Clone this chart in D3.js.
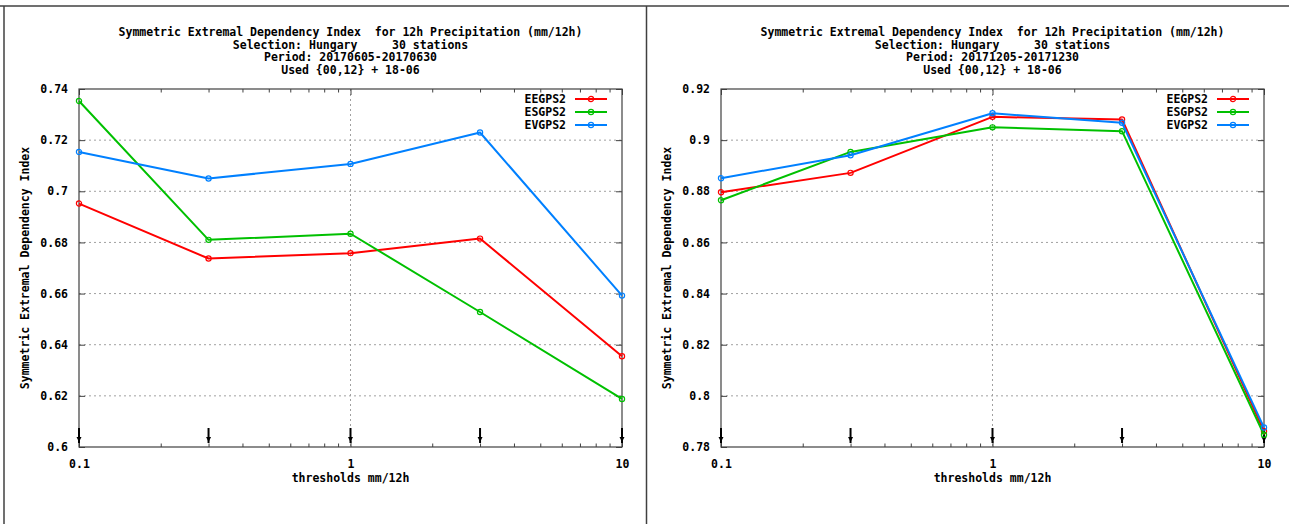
<html>
<head>
<title>SEDI 12h precipitation</title>
<script src="https://d3js.org/d3.v7.min.js"></script>
<style>
  body { margin: 0; background: #fff; }
  svg text { font-family: "DejaVu Sans Mono", "Liberation Mono", monospace; font-weight: bold; font-size: 11.5px; fill: #000; }
  .grid line { stroke: #a0a0a0; stroke-width: 1; stroke-dasharray: 2,3; }
  .frame { stroke: #404040; stroke-width: 1.5; fill: none; }
</style>
</head>
<body>
<svg id="chart" width="1289" height="524"></svg>
<script>
// thresholds (mm/12h) on the log x axis
var thresholds = [0.1, 0.3, 1, 3, 10];
var seriesNames = ["EEGPS2", "ESGPS2", "EVGPS2"];
var seriesColors = ["#ff0000", "#00c000", "#0080ff"];
var xTicks = [0.1, 1, 10];

// June 2017 period
var summerEE = [0.6952, 0.6737, 0.6758, 0.6815, 0.6355];
var summerES = [0.7353, 0.6810, 0.6834, 0.6528, 0.6188];
var summerEV = [0.7154, 0.7050, 0.7107, 0.7230, 0.6592];
var summerYTicks = [0.6, 0.62, 0.64, 0.66, 0.68, 0.7, 0.72, 0.74];

// December 2017 period
var winterEE = [0.8796, 0.8872, 0.9091, 0.9081, 0.7862];
var winterES = [0.8765, 0.8954, 0.9050, 0.9035, 0.7848];
var winterEV = [0.8851, 0.8941, 0.9105, 0.9068, 0.7876];
var winterYTicks = [0.78, 0.8, 0.82, 0.84, 0.86, 0.88, 0.9, 0.92];

var panels = [
  { left: 79, period: "20170605-20170630", series: [summerEE, summerES, summerEV], yTicks: summerYTicks },
  { left: 721, period: "20171205-20171230", series: [winterEE, winterES, winterEV], yTicks: winterYTicks }
];

var svg = d3.select("#chart");
var plotTop = 89, width = 543, height = 358;

// outer frame of the two images
svg.append("line").attr("class", "frame").attr("x1", 0).attr("x2", 1289).attr("y1", 6).attr("y2", 6);
svg.append("line").attr("class", "frame").attr("x1", 4).attr("x2", 4).attr("y1", 6).attr("y2", 524);
svg.append("line").attr("class", "frame").attr("x1", 646.5).attr("x2", 646.5).attr("y1", 6).attr("y2", 524);

panels.forEach(function (p) {
  var x = d3.scaleLog().domain([0.1, 10]).range([0, width]);
  var y = d3.scaleLinear().domain([p.yTicks[0], p.yTicks[p.yTicks.length - 1]]).range([height, 0]);
  var g = svg.append("g").attr("transform", "translate(" + p.left + "," + plotTop + ")");

  // titles
  var titles = ["Symmetric Extremal Dependency Index  for 12h Precipitation (mm/12h)",
                "Selection: Hungary     30 stations",
                "Period: " + p.period,
                "Used {00,12} + 18-06"];
  g.selectAll(".title").data(titles).enter().append("text")
    .attr("x", width / 2).attr("y", function (d, i) { return -57 + i * 12.7; })
    .attr("text-anchor", "middle").attr("dominant-baseline", "central")
    .style("white-space", "pre").attr("xml:space", "preserve")
    .text(function (d) { return d; });

  // grid
  var grid = g.append("g").attr("class", "grid");
  grid.selectAll(".gy").data(p.yTicks.slice(1, -1)).enter().append("line")
    .attr("x1", 0).attr("x2", width).attr("y1", function (d) { return y(d); }).attr("y2", function (d) { return y(d); });
  grid.append("line").attr("x1", x(1)).attr("x2", x(1)).attr("y1", 0).attr("y2", height);

  // axes with mirrored ticks
  var minor = [];
  [0.1, 1].forEach(function (dec) { for (var k = 2; k <= 9; k++) minor.push(dec * k); });
  var bottomAx = g.append("g").attr("transform", "translate(0," + height + ")")
    .call(d3.axisBottom(x).tickValues(xTicks).tickSize(0).tickPadding(13).tickFormat(d3.format("~g")));
  bottomAx.selectAll(".tick line").attr("y2", -6);
  g.append("g").call(d3.axisTop(x).tickValues(xTicks).tickSize(0).tickFormat(""))
    .selectAll(".tick line").attr("y2", 6);
  g.append("g").call(d3.axisLeft(y).tickValues(p.yTicks).tickSize(-6).tickPadding(11).tickFormat(d3.format("~g")));
  g.append("g").attr("transform", "translate(" + width + ",0)")
    .call(d3.axisRight(y).tickValues(p.yTicks).tickSize(-6).tickFormat(""));
  g.append("g").attr("transform", "translate(0," + height + ")")
    .call(d3.axisBottom(x).tickValues(minor).tickSize(0).tickFormat(""))
    .selectAll(".tick line").attr("y2", -3.5);
  g.append("g").call(d3.axisTop(x).tickValues(minor).tickSize(0).tickFormat(""))
    .selectAll(".tick line").attr("y2", 3.5);
  g.selectAll(".domain").remove();
  g.selectAll(".tick line").attr("stroke", "#404040");
  g.selectAll(".tick text").attr("font-family", null).attr("font-size", null);
  g.append("rect").attr("width", width).attr("height", height).attr("fill", "none").attr("stroke", "#404040").attr("stroke-width", 1.2);

  // threshold arrows
  var arrows = g.append("g");
  thresholds.forEach(function (t) {
    arrows.append("line").attr("x1", x(t)).attr("x2", x(t)).attr("y1", height - 19).attr("y2", height - 4)
      .attr("stroke", "#000").attr("stroke-width", 2);
    arrows.append("path")
      .attr("d", "M" + (x(t) - 2.5) + "," + (height - 10) + "L" + (x(t) + 2.5) + "," + (height - 10) + "L" + x(t) + "," + (height - 5) + "Z")
      .attr("fill", "#000");
  });

  // axis titles
  g.append("text").attr("x", width / 2).attr("y", height + 31).attr("text-anchor", "middle")
    .attr("dominant-baseline", "central").text("thresholds mm/12h");
  g.append("text").attr("transform", "translate(" + (-54) + "," + (height / 2) + ") rotate(-90)")
    .attr("text-anchor", "middle").attr("dominant-baseline", "central").text("Symmetric Extremal Dependency Index");

  // series
  var line = d3.line().x(function (d, i) { return x(thresholds[i]); }).y(function (d) { return y(d); });
  p.series.forEach(function (s, si) {
    g.append("path").datum(s).attr("d", line).attr("fill", "none")
      .attr("stroke", seriesColors[si]).attr("stroke-width", 2).attr("stroke-linejoin", "round");
    g.selectAll(".pt" + si).data(s).enter().append("circle")
      .attr("cx", function (d, i) { return x(thresholds[i]); }).attr("cy", function (d) { return y(d); })
      .attr("r", 2.6).attr("fill", "none").attr("stroke", seriesColors[si]).attr("stroke-width", 1.2);
  });

  // legend
  var leg = g.append("g").attr("transform", "translate(" + (width - 56) + ",10)");
  seriesNames.forEach(function (n, i) {
    var ly = i * 13;
    leg.append("text").attr("x", 0).attr("y", ly).attr("text-anchor", "end").attr("dominant-baseline", "central").text(n);
    leg.append("line").attr("x1", 9).attr("x2", 41).attr("y1", ly).attr("y2", ly)
      .attr("stroke", seriesColors[i]).attr("stroke-width", 2);
    leg.append("circle").attr("cx", 25).attr("cy", ly).attr("r", 2.6).attr("fill", "none")
      .attr("stroke", seriesColors[i]).attr("stroke-width", 1.2);
  });
});
</script>
</body>
</html>
